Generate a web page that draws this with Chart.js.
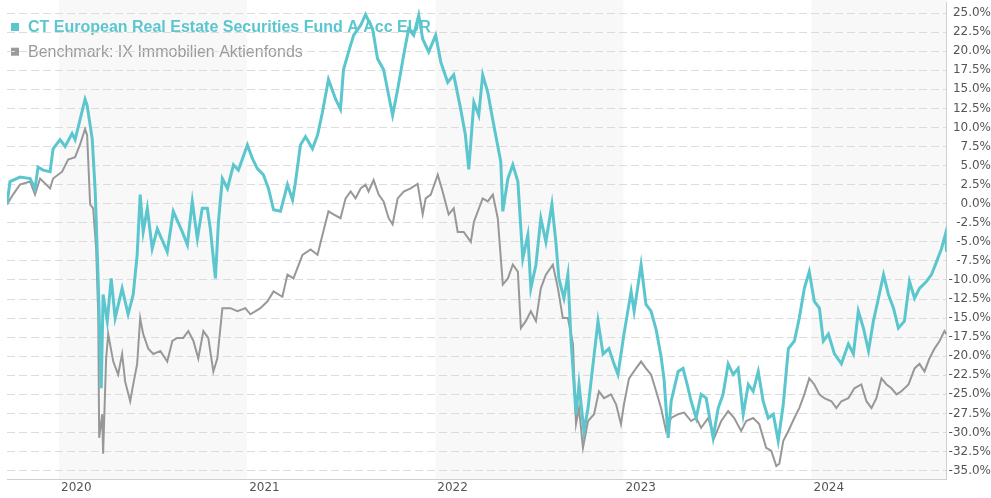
<!DOCTYPE html>
<html>
<head>
<meta charset="utf-8">
<script src="https://cdn.jsdelivr.net/npm/chart.js@4.4.1/dist/chart.umd.min.js"></script>
<style>
    body { margin: 0; background: #fff; overflow: hidden; }
    canvas { display: block; }
</style>
</head>
<body>
<canvas id="perfChart" width="991" height="498"></canvas>
<script>
// x values are fractional years, y values are cumulative performance in %
const fundLabel = 'CT European Real Estate Securities Fund A Acc EUR'
const benchLabel = 'Benchmark: IX Immobilien Aktienfonds'

const fundX = [
    2019.723, 2019.739, 2019.792, 2019.846, 2019.872, 2019.888, 2019.915, 2019.952, 2019.968, 2020.005,
    2020.032, 2020.069, 2020.085, 2020.112, 2020.138, 2020.149, 2020.176, 2020.192, 2020.208, 2020.224,
    2020.234, 2020.256, 2020.277, 2020.298, 2020.335, 2020.367, 2020.394, 2020.415, 2020.431, 2020.447,
    2020.469, 2020.495, 2020.522, 2020.575, 2020.607, 2020.655, 2020.682, 2020.708, 2020.735, 2020.761,
    2020.788, 2020.804, 2020.831, 2020.847, 2020.868, 2020.895, 2020.927, 2020.953, 2021.001, 2021.028,
    2021.054, 2021.086, 2021.113, 2021.140, 2021.177, 2021.214, 2021.241, 2021.257, 2021.283, 2021.310,
    2021.347, 2021.374, 2021.400, 2021.432, 2021.470, 2021.496, 2021.512, 2021.539, 2021.566, 2021.603,
    2021.629, 2021.667, 2021.693, 2021.725, 2021.773, 2021.800, 2021.832, 2021.858, 2021.885, 2021.912,
    2021.933, 2021.965, 2022.002, 2022.029, 2022.066, 2022.098, 2022.135, 2022.160, 2022.178, 2022.205,
    2022.231, 2022.252, 2022.279, 2022.311, 2022.348, 2022.359, 2022.386, 2022.412, 2022.439, 2022.465,
    2022.492, 2022.508, 2022.535, 2022.561, 2022.588, 2022.620, 2022.641, 2022.657, 2022.684, 2022.705,
    2022.721, 2022.748, 2022.764, 2022.790, 2022.812, 2022.828, 2022.865, 2022.892, 2022.923, 2022.950,
    2022.971, 2023.003, 2023.041, 2023.057, 2023.094, 2023.120, 2023.147, 2023.174, 2023.200, 2023.216,
    2023.238, 2023.254, 2023.291, 2023.317, 2023.344, 2023.360, 2023.387, 2023.413, 2023.440, 2023.477,
    2023.504, 2023.530, 2023.557, 2023.584, 2023.610, 2023.637, 2023.664, 2023.690, 2023.717, 2023.743,
    2023.770, 2023.797, 2023.823, 2023.850, 2023.877, 2023.909, 2023.935, 2023.962, 2023.988, 2024.015,
    2024.042, 2024.063, 2024.090, 2024.122, 2024.159, 2024.196, 2024.223, 2024.249, 2024.276, 2024.303,
    2024.329, 2024.356, 2024.383, 2024.409, 2024.436, 2024.462, 2024.494, 2024.521, 2024.548, 2024.574,
    2024.611, 2024.638, 2024.665, 2024.691, 2024.713, 2024.718
]
const fundY = [
    -0.1, 2.9, 3.5, 3.3, 2.0, 4.8, 4.4, 4.2, 7.2, 8.4,
    7.5, 9.2, 8.4, 11.1, 13.7, 12.9, 8.5, 1.6, -10.2, -24.2,
    -11.9, -15.4, -9.8, -15.0, -11.1, -14.5, -11.9, -6.7, 1.2, -3.7,
    -0.6, -5.9, -3.3, -6.3, -1.0, -3.7, -5.4, 0.3, -4.6, -0.6,
    -0.6, -3.3, -9.8, -2.4, 3.3, 2.0, 5.1, 4.4, 7.7, 5.9,
    4.6, 3.8, 2.0, -0.8, -1.0, 2.5, 0.5, 2.9, 7.7, 8.8,
    7.2, 9.0, 12.0, 16.3, 13.7, 12.4, 17.6, 19.9, 22.1, 23.4,
    24.8, 22.9, 19.0, 17.6, 11.6, 15.0, 19.5, 22.9, 22.1, 24.7,
    21.6, 19.9, 22.1, 18.6, 15.9, 16.9, 12.4, 9.0, 4.5, 13.3,
    11.6, 16.9, 14.6, 10.3, 5.5, -1.0, 3.3, 5.1, 2.9, -7.2,
    -4.1, -11.1, -8.0, -1.9, -5.0, -0.1, -5.0, -9.8, -12.4, -9.3,
    -17.6, -27.6, -23.7, -29.8, -26.8, -23.3, -15.4, -19.7, -19.0, -21.0,
    -22.4, -17.1, -11.5, -14.1, -8.0, -13.2, -14.1, -16.5, -20.0, -23.0,
    -30.7, -25.9, -22.0, -21.6, -24.2, -25.9, -28.1, -25.0, -25.5, -30.7,
    -26.8, -25.0, -21.0, -22.4, -21.6, -27.6, -23.7, -24.6, -22.0, -25.9,
    -28.1, -27.6, -31.1, -26.3, -19.0, -18.0, -15.0, -11.1, -8.9, -12.8,
    -13.7, -18.0, -17.1, -19.7, -21.0, -18.4, -19.7, -14.1, -16.3, -19.3,
    -15.4, -12.4, -9.3, -11.9, -13.7, -16.3, -15.4, -10.2, -12.4, -11.1,
    -10.2, -9.3, -7.6, -5.9, -3.9, -6.3
]

const benchX = [
    2019.723, 2019.755, 2019.792, 2019.846, 2019.872, 2019.899, 2019.952, 2019.968, 2020.016, 2020.048,
    2020.085, 2020.112, 2020.138, 2020.149, 2020.165, 2020.181, 2020.197, 2020.208, 2020.213, 2020.229,
    2020.234, 2020.250, 2020.261, 2020.288, 2020.314, 2020.335, 2020.351, 2020.378, 2020.394, 2020.415,
    2020.431, 2020.447, 2020.474, 2020.501, 2020.538, 2020.575, 2020.602, 2020.628, 2020.660, 2020.687,
    2020.714, 2020.740, 2020.767, 2020.793, 2020.820, 2020.841, 2020.868, 2020.911, 2020.948, 2020.990,
    2021.017, 2021.070, 2021.108, 2021.140, 2021.187, 2021.214, 2021.246, 2021.294, 2021.337, 2021.374,
    2021.400, 2021.432, 2021.459, 2021.496, 2021.523, 2021.550, 2021.576, 2021.603, 2021.629, 2021.645,
    2021.672, 2021.699, 2021.725, 2021.752, 2021.773, 2021.800, 2021.832, 2021.869, 2021.906, 2021.933,
    2021.949, 2021.976, 2022.013, 2022.039, 2022.071, 2022.098, 2022.119, 2022.151, 2022.189, 2022.205,
    2022.252, 2022.279, 2022.306, 2022.332, 2022.359, 2022.386, 2022.412, 2022.439, 2022.455, 2022.481,
    2022.508, 2022.535, 2022.561, 2022.588, 2022.625, 2022.652, 2022.678, 2022.705, 2022.732, 2022.748,
    2022.764, 2022.785, 2022.812, 2022.844, 2022.870, 2022.897, 2022.934, 2022.961, 2022.987, 2023.003,
    2023.030, 2023.067, 2023.094, 2023.120, 2023.147, 2023.174, 2023.200, 2023.227, 2023.254, 2023.291,
    2023.323, 2023.360, 2023.387, 2023.413, 2023.451, 2023.483, 2023.520, 2023.557, 2023.589, 2023.626,
    2023.653, 2023.690, 2023.722, 2023.759, 2023.786, 2023.813, 2023.829, 2023.850, 2023.877, 2023.909,
    2023.935, 2023.962, 2023.988, 2024.015, 2024.042, 2024.068, 2024.106, 2024.132, 2024.159, 2024.196,
    2024.228, 2024.265, 2024.292, 2024.319, 2024.345, 2024.372, 2024.399, 2024.425, 2024.452, 2024.478,
    2024.516, 2024.548, 2024.574, 2024.601, 2024.627, 2024.654, 2024.681, 2024.707, 2024.718
]
const benchY = [
    -0.1, 1.2, 2.5, 2.9, 1.2, 3.3, 2.0, 3.3, 4.2, 5.8,
    6.1, 7.8, 9.8, 9.0, -0.1, -0.6, -5.9, -14.5, -30.7, -27.6,
    -32.8, -20.3, -17.1, -20.7, -22.4, -19.7, -23.3, -25.9, -23.7, -21.0,
    -15.0, -17.1, -19.0, -19.7, -19.3, -20.7, -18.0, -17.6, -17.6, -16.7,
    -18.0, -20.3, -16.7, -17.6, -22.0, -20.3, -13.7, -13.7, -14.1, -13.7,
    -14.5, -13.7, -12.8, -11.5, -12.2, -9.3, -9.8, -6.7, -6.0, -6.7,
    -4.1, -1.0, -1.4, -1.9, 0.7, 1.6, 0.7, 2.0, 2.5, 1.6,
    3.1, 1.2, 0.3, -1.9, -2.7, 0.7, 1.6, 2.0, 2.6, -1.4,
    0.7, 1.2, 3.8, 1.6, -1.4, -0.6, -3.7, -3.7, -5.0, -2.4,
    0.7, 0.3, 1.2, -1.9, -10.6, -9.8, -8.0, -8.9, -16.3, -15.4,
    -14.1, -15.4, -11.1, -9.3, -8.0, -11.1, -15.0, -15.0, -18.4, -28.9,
    -26.8, -32.0, -28.5, -27.6, -24.6, -25.5, -25.0, -26.3, -28.9, -26.3,
    -22.9, -21.6, -20.7, -21.6, -22.4, -24.6, -26.8, -29.8, -28.1, -27.6,
    -27.4, -28.5, -28.1, -29.4, -28.1, -30.7, -28.5, -27.2, -28.1, -29.8,
    -28.5, -28.1, -28.9, -32.0, -32.4, -34.4, -34.1, -31.1, -29.8, -28.1,
    -26.8, -25.0, -22.9, -23.7, -25.0, -25.5, -25.9, -26.8, -25.9, -25.5,
    -24.2, -23.7, -25.9, -26.8, -25.5, -22.9, -23.7, -24.2, -25.0, -24.6,
    -23.7, -21.6, -21.0, -22.0, -20.3, -19.0, -18.0, -16.7, -17.1
]

const yearTicks = [2020, 2021, 2022, 2023, 2024]
const shadedYears = [2020, 2022, 2024]
const yTicks = [25, 22.5, 20, 17.5, 15, 12.5, 10, 7.5, 5, 2.5, 0, -2.5, -5, -7.5, -10, -12.5,
    -15, -17.5, -20, -22.5, -25, -27.5, -30, -32.5, -35]

const tealColor = '#5bc6cd'
const greyColor = '#989898'

Chart.defaults.font.family = 'DejaVu Sans'
Chart.defaults.font.size = 12
Chart.defaults.color = '#555'

const toPoints = (xs, ys) => xs.map((x, i) => ({ x: x, y: ys[i] }))

// labels may hang over the plot edges, so drop the extra room chart.js reserves for them
const noEdgePadding = axis => {
    axis.paddingTop = 0
    axis.paddingBottom = 0
    axis.paddingLeft = 0
    axis.paddingRight = 0
}

// light year bands + the overlaid legend, drawn below the grid lines
const backdrop = {
    id: 'backdrop',
    beforeDraw(chart) {
        const { ctx, chartArea, scales } = chart
        const xScale = scales.x
        ctx.save()
        ctx.fillStyle = '#f8f8f8'
        for (const yr of shadedYears) {
            const left = Math.max(xScale.getPixelForValue(yr), chartArea.left)
            const right = Math.min(xScale.getPixelForValue(yr + 1), chartArea.right)
            if (right > left) ctx.fillRect(left, 0, right - left, chartArea.bottom)
        }

        const items = [
            { text: fundLabel, color: tealColor, weight: 'bold' },
            { text: benchLabel, color: '#9a9a9a', weight: 'normal' },
        ]
        ctx.textBaseline = 'alphabetic'
        items.forEach((item, i) => {
            const base = 32 + i * 24.7
            ctx.fillStyle = item.color
            ctx.fillRect(11, base - 9, 8, 8)
            ctx.font = item.weight + ' 16px "Liberation Sans", Arial, sans-serif'
            ctx.fillText(item.text, 28, base)
        })
        ctx.restore()
    }
}

new Chart(document.getElementById('perfChart').getContext('2d'), {
    type: 'line',
    data: {
        datasets: [{
            label: fundLabel,
            data: toPoints(fundX, fundY),
            borderColor: tealColor,
            borderWidth: 3,
            pointRadius: 0,
            tension: 0,
        }, {
            label: benchLabel,
            data: toPoints(benchX, benchY),
            borderColor: greyColor,
            borderWidth: 2,
            pointRadius: 0,
            tension: 0,
        }]
    },
    options: {
        responsive: false,
        animation: false,
        devicePixelRatio: 1,
        layout: {
            padding: { left: 7, top: 2, right: 0, bottom: 0 }
        },
        plugins: {
            legend: { display: false },
            tooltip: { enabled: false },
        },
        scales: {
            x: {
                type: 'linear',
                min: fundX[0],
                max: fundX[fundX.length - 1],
                afterBuildTicks: axis => {
                    axis.ticks = yearTicks.map(v => ({ value: v }))
                },
                afterFit: axis => {
                    noEdgePadding(axis)
                    axis.height = 19
                },
                grid: { display: false, drawTicks: false },
                border: { display: true, color: '#d0d0d0' },
                ticks: {
                    align: 'start',
                    labelOffset: 2,
                    padding: 2,
                    maxRotation: 0,
                    autoSkip: false,
                    callback: v => String(v),
                },
            },
            y: {
                position: 'right',
                min: -36.1,
                max: 26.45,
                afterBuildTicks: axis => {
                    axis.ticks = yTicks.map(v => ({ value: v }))
                },
                afterFit: noEdgePadding,
                grid: { color: '#dcdcdc', drawTicks: false },
                border: { display: true, color: '#d0d0d0', dash: [8, 4] },
                ticks: {
                    crossAlign: 'far',
                    padding: 1,
                    callback: v => v.toFixed(1) + '%',
                },
            },
        },
    },
    plugins: [backdrop],
})
</script>
</body>
</html>
